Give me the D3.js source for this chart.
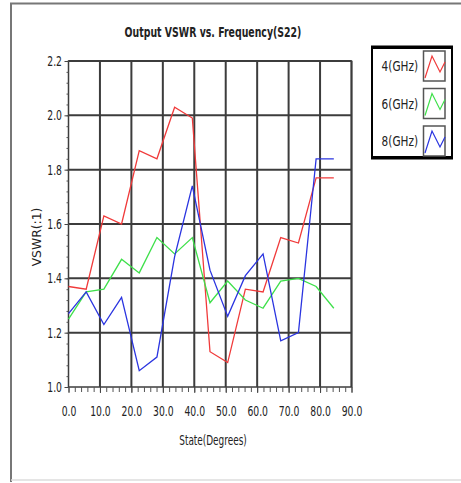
<!DOCTYPE html>
<html>
<head>
<meta charset="utf-8">
<script src="https://cdn.jsdelivr.net/npm/d3@7"></script>
<style>
  body { margin: 0; background: #fff; }
  svg text { font-family: "DejaVu Sans", sans-serif; fill: #222; }
</style>
</head>
<body>
<svg id="chart" width="461" height="483"></svg>
<script>
// phase states, 5.625 deg steps
const states = [0, 5.625, 11.25, 16.875, 22.5, 28.125, 33.75, 39.375,
                45, 50.625, 56.25, 61.875, 67.5, 73.125, 78.75, 84.375];
const vswr4 = [1.37, 1.36, 1.63, 1.60, 1.87, 1.84, 2.03, 1.99, 1.13, 1.09, 1.36, 1.35, 1.55, 1.53, 1.77, 1.77];
const vswr6 = [1.25, 1.35, 1.36, 1.47, 1.42, 1.55, 1.49, 1.55, 1.31, 1.39, 1.32, 1.29, 1.39, 1.40, 1.37, 1.29];
const vswr8 = [1.27, 1.35, 1.23, 1.33, 1.06, 1.11, 1.48, 1.74, 1.43, 1.26, 1.41, 1.49, 1.17, 1.20, 1.84, 1.84];
const seriesNames = ["4(GHz)", "6(GHz)", "8(GHz)"];
const xTicks = [0, 10, 20, 30, 40, 50, 60, 70, 80, 90];
const yTicks = [1.0, 1.2, 1.4, 1.6, 1.8, 2.0, 2.2];

const colors = ["#f03a3a", "#3ee04a", "#2a34e0"];
const series = [vswr4, vswr6, vswr8].map((v, i) => ({
  name: seriesNames[i], color: colors[i],
  values: v.map((y, j) => ({ x: states[j], y: y }))
}));

const svg = d3.select("#chart");
const margin = { top: 61, left: 68.5, right: 109.5, bottom: 96 };
const width = +svg.attr("width");
const height = +svg.attr("height");
const squeeze = 0.66; // the original uses a narrow font

// outer frame
svg.append("path")
  .attr("d", "M11,482 V3.5 H461")
  .attr("fill", "none").attr("stroke", "#777").attr("stroke-width", 2);
svg.append("line")
  .attr("x1", 11).attr("x2", 461).attr("y1", 480).attr("y2", 480)
  .attr("stroke", "#ddd").attr("stroke-width", 1.5);

const x = d3.scaleLinear().domain([0, 90]).range([margin.left, width - margin.right]);
const y = d3.scaleLinear().domain([1.0, 2.2]).range([height - margin.bottom, margin.top]);

// grid
svg.append("g").selectAll("line").data(xTicks.slice(1)).enter().append("line")
  .attr("x1", d => x(d)).attr("x2", d => x(d))
  .attr("y1", y(1.0)).attr("y2", y(2.2))
  .attr("stroke", "#3c3c3c").attr("stroke-width", 2);
svg.append("g").selectAll("line").data(yTicks.slice(1)).enter().append("line")
  .attr("x1", x(0)).attr("x2", x(90))
  .attr("y1", d => y(d)).attr("y2", d => y(d))
  .attr("stroke", "#3c3c3c").attr("stroke-width", 2);
svg.append("rect")
  .attr("x", x(0)).attr("y", y(2.2))
  .attr("width", x(90) - x(0)).attr("height", y(1.0) - y(2.2))
  .attr("fill", "none").attr("stroke", "#3c3c3c").attr("stroke-width", 1.5);

// axes
const xMinor = d3.range(0, 90.01, 2);
svg.append("g")
  .attr("transform", `translate(0,${y(1.0)})`)
  .call(d3.axisBottom(x).tickValues(xMinor).tickSize(5).tickFormat(""))
  .call(g => g.select(".domain").remove())
  .call(g => g.selectAll("line").attr("stroke", "#555"));
svg.append("g")
  .attr("transform", `translate(0,${y(1.0)})`)
  .call(d3.axisBottom(x).tickValues(xTicks).tickSize(6).tickPadding(13).tickFormat(d3.format(".1f")))
  .call(g => g.select(".domain").remove())
  .call(g => g.selectAll("line").attr("stroke", "#444"))
  .call(g => g.selectAll("text").attr("font-size", 14).attr("fill", "#333")
    .attr("transform", `scale(${squeeze},1)`));

const yMinor = d3.range(1.0, 2.201, 0.04);
svg.append("g")
  .attr("transform", `translate(${x(0)},0)`)
  .call(d3.axisLeft(y).tickValues(yMinor).tickSize(2).tickFormat(""))
  .call(g => g.select(".domain").remove())
  .call(g => g.selectAll("line").attr("stroke", "#555"));
svg.append("g")
  .attr("transform", `translate(${x(0)},0)`)
  .call(d3.axisLeft(y).tickValues(yTicks).tickSize(4).tickPadding(2).tickFormat(d3.format(".1f")))
  .call(g => g.select(".domain").remove())
  .call(g => g.selectAll("line").attr("stroke", "#444"))
  .call(g => g.selectAll("text").attr("font-size", 14).attr("fill", "#333")
    .attr("x", -6.5 / squeeze)
    .attr("transform", `scale(${squeeze},1)`));

// lines
const line = d3.line().x(d => x(d.x)).y(d => y(d.y));
svg.append("g").selectAll("path").data(series).enter().append("path")
  .attr("d", d => line(d.values))
  .attr("fill", "none")
  .attr("stroke", d => d.color)
  .attr("stroke-width", 1.3);

// titles
svg.append("text")
  .attr("transform", `translate(213,37) scale(0.67,1)`)
  .attr("text-anchor", "middle")
  .attr("font-size", 14).attr("font-weight", "bold")
  .text("Output VSWR vs. Frequency(S22)");
svg.append("text")
  .attr("transform", `translate(213,445) scale(${squeeze},1)`)
  .attr("text-anchor", "middle")
  .attr("font-size", 13.5)
  .text("State(Degrees)");
svg.append("text")
  .attr("transform", "translate(41,237) rotate(-90) scale(0.95,1)")
  .attr("text-anchor", "middle")
  .attr("font-size", 13)
  .attr("fill", "#444")
  .text("VSWR(:1)");

// legend
const legend = svg.append("g");
legend.append("rect")
  .attr("x", 372).attr("y", 46.5).attr("width", 80).attr("height", 112)
  .attr("fill", "#fff").attr("stroke", "#000").attr("stroke-width", 2);
legend.append("line").attr("x1", 372).attr("x2", 452).attr("y1", 47.5).attr("y2", 47.5)
  .attr("stroke", "#000").attr("stroke-width", 3);
legend.append("line").attr("x1", 372).attr("x2", 452).attr("y1", 157.5).attr("y2", 157.5)
  .attr("stroke", "#000").attr("stroke-width", 3);

const legendY = d3.scalePoint().domain(seriesNames).range([66, 141]);
const item = legend.selectAll("g.item").data(series).enter().append("g")
  .attr("class", "item")
  .attr("transform", d => `translate(0,${legendY(d.name)})`);
item.append("text")
  .attr("transform", "translate(418,5) scale(0.75,1)")
  .attr("text-anchor", "end")
  .attr("font-size", 14)
  .attr("fill", "#333")
  .text(d => d.name);
item.append("rect")
  .attr("x", 423.5).attr("y", -15).attr("width", 21.5).attr("height", 30)
  .attr("fill", "#fff").attr("stroke", "#555").attr("stroke-width", 1.5);
item.append("path")
  .attr("d", "M425,12 L432,-10 L440,6 L445,-4")
  .attr("fill", "none")
  .attr("stroke", d => d.color)
  .attr("stroke-width", 1.2);
</script>
</body>
</html>
